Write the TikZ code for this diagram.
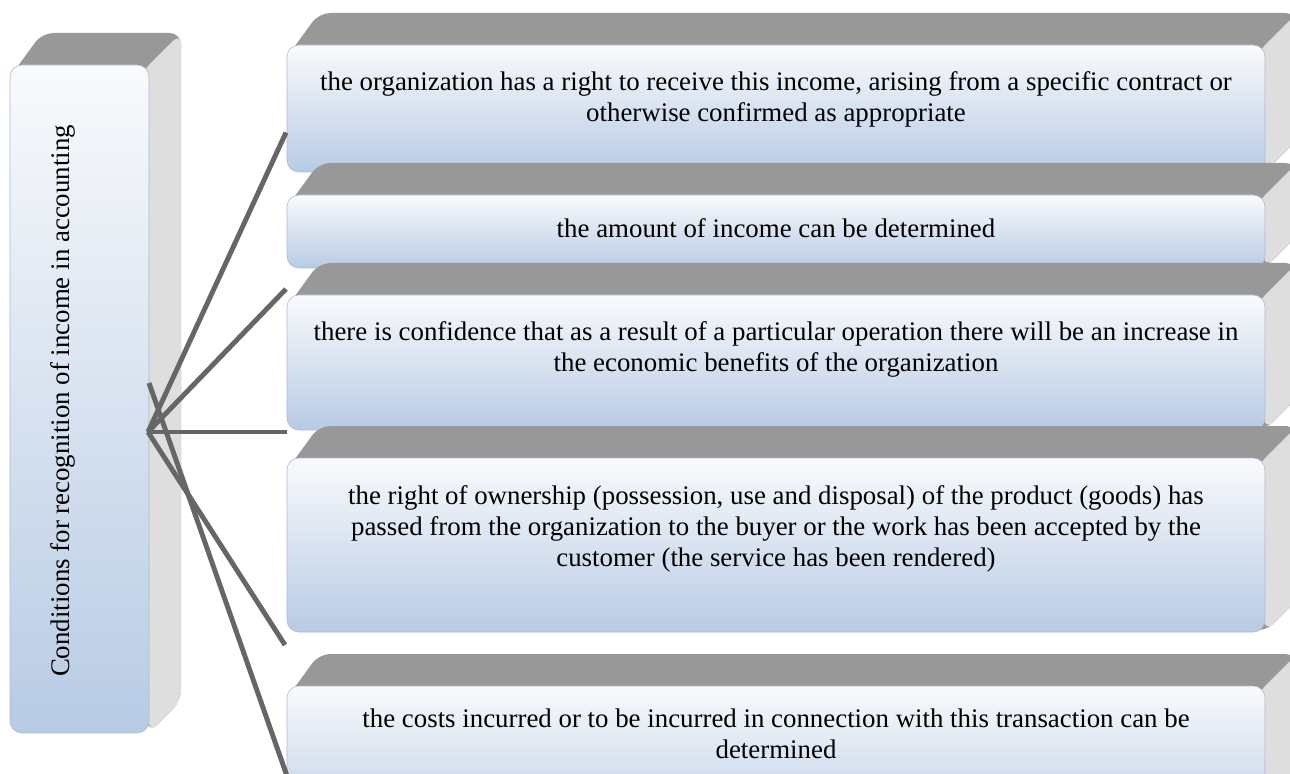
\documentclass[tikz,border=0pt]{standalone}
\usepackage{fontspec}
\setmainfont{Liberation Serif}
\usetikzlibrary{calc}
\definecolor{facetop}{HTML}{F9FAFC}
\definecolor{facebottom}{HTML}{B8CBE4}
\definecolor{faceedge}{HTML}{A9BBD4}
\definecolor{lidgray}{HTML}{989898}
\definecolor{sidegray}{HTML}{DEDEDE}
\definecolor{linkgray}{HTML}{666666}

% slab{name}{left}{top}{right}{bottom}: grey lid and side, then the shaded front
\newcommand{\slab}[5]{%
  \fill[lidgray, rounded corners=8pt] (#2,#3+12) -- (#2+32,#3-32) -- (#4+32,#3-32) -- (#4+32,#5-32) -- (#4,#5) -- cycle;
  \fill[sidegray, rounded corners=8pt] (#4-8,#3+8) -- (#4+32,#3-32) -- (#4+32,#5-32) -- (#4,#5) -- cycle;
  \node[front, minimum width={(#4-#2)*0.025cm}, minimum height={(#5-#3)*0.025cm}] (#1) at ({(#2+#4)/2},{(#3+#5)/2}) {};
}

\begin{document}
\begin{tikzpicture}[
  x=0.025cm, y=-0.025cm,
  front/.style={rounded corners=8.5pt, top color=facetop, bottom color=facebottom,
                draw=faceedge, line width=0.4pt, inner sep=0pt, outer sep=0pt},
  txt/.style={font=\fontsize{19.1}{22}\selectfont, align=center, anchor=north,
              inner sep=0pt, text=black},
  link/.style={draw=linkgray, line width=3.5pt}
]
  \useasboundingbox (0,0) rectangle (1290,774);
  \clip (0,0) rectangle (1290,774);

  % left column
  \slab{cond}{10}{65}{149}{733}
  \node[txt, rotate=90, anchor=base] (title) at (69,401) {Conditions for recognition of income in accounting};

  % the five conditions
  \slab{r1}{287}{45}{1265}{172}
  \node[txt] (t1) at ([shift={(0,26)}]r1.north) {the organization has a right to receive this income, arising from a specific contract or\\otherwise confirmed as appropriate};
  \slab{r2}{287}{195}{1265}{268}
  \node[txt] (t2) at ([shift={(0,23)}]r2.north) {the amount of income can be determined};
  \slab{r3}{287}{295}{1265}{430}
  \node[txt] (t3) at ([shift={(0,26)}]r3.north) {there is confidence that as a result of a particular operation there will be an increase in\\the economic benefits of the organization};
  \slab{r4}{287}{458}{1265}{632}
  \node[txt] (t4) at ([shift={(0,27)}]r4.north) {the right of ownership (possession, use and disposal) of the product (goods) has\\passed from the organization to the buyer or the work has been accepted by the\\customer (the service has been rendered)};
  \slab{r5}{287}{686}{1265}{840}
  \node[txt] (t5) at ([shift={(0,23)}]r5.north) {the costs incurred or to be incurred in connection with this transaction can be\\determined};

  % connectors
  \coordinate (hub)  at (148,432);
  \coordinate (kink) at (149,383);
  \draw[link] (hub) -- ([shift={(-1,24)}]r1.west);
  \draw[link] (hub) -- ([shift={(-1,-6)}]r3.north west);
  \draw[link] (hub) -- (hub -| r3.west);
  \draw[link] (hub) -- ([shift={(-2,13)}]r4.south west);
  \draw[link] (kink) -- ([shift={(0,13)}]r5.west);
\end{tikzpicture}
\end{document}
